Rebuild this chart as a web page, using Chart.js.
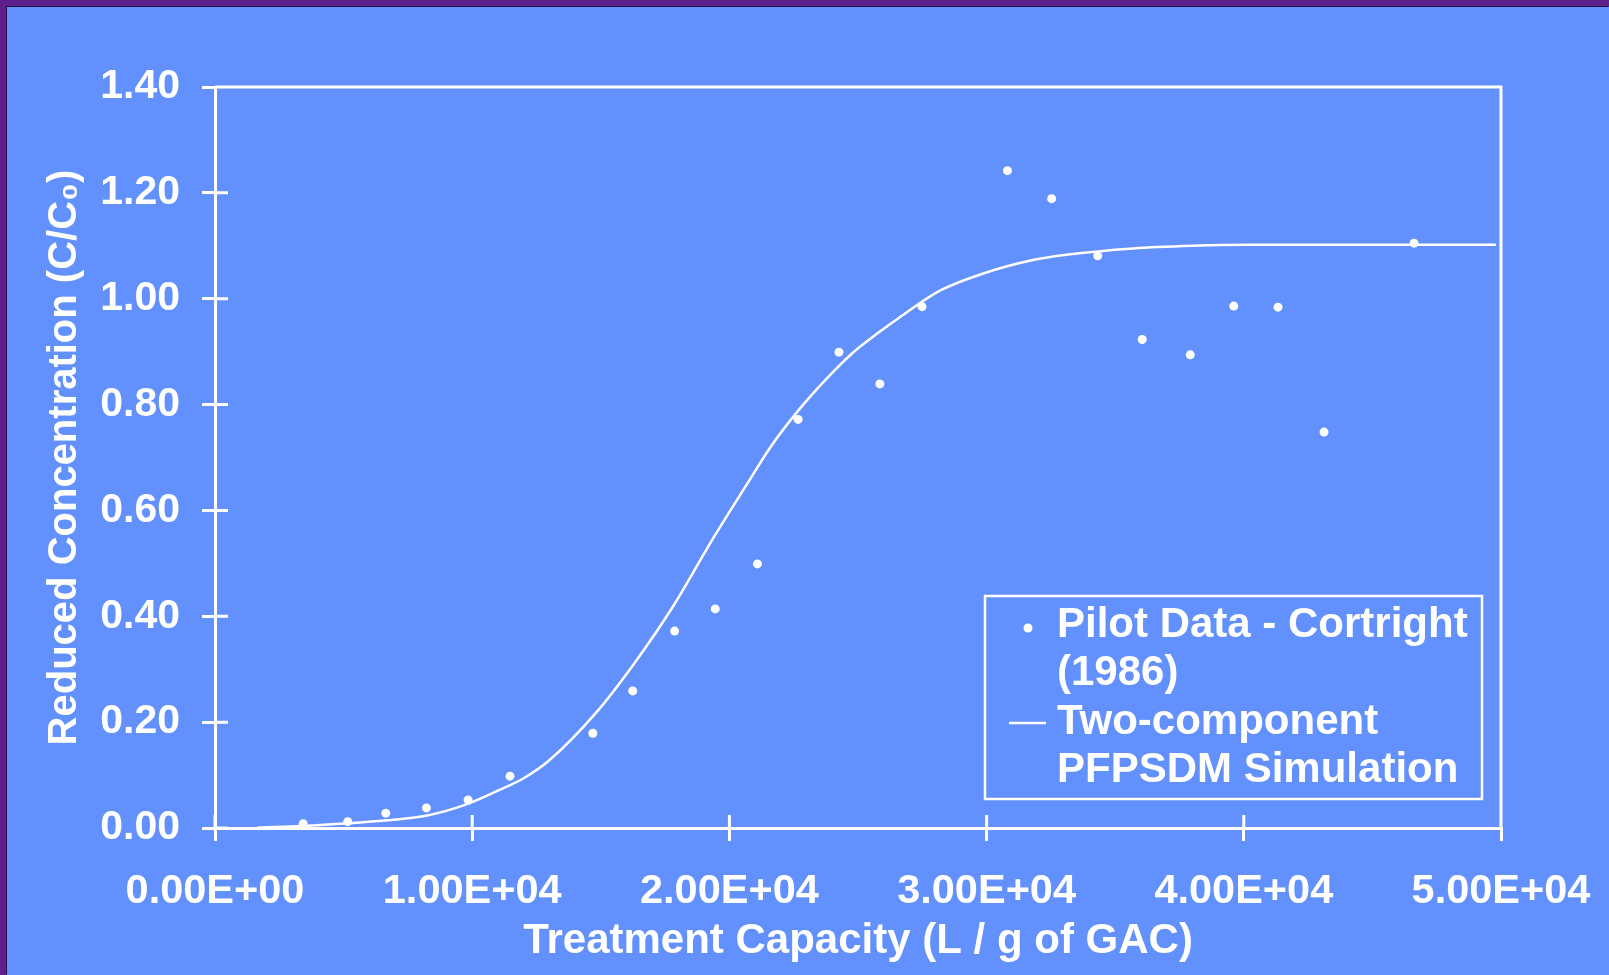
<!DOCTYPE html>
<html>
<head>
<meta charset="utf-8">
<title>Pilot data vs PFPSDM simulation</title>
<script src="https://cdn.jsdelivr.net/npm/chart.js@4.4.1/dist/chart.umd.min.js"></script>
<style>
  html, body { margin: 0; padding: 0; background: #5e208d; width: 1609px; height: 975px; overflow: hidden; }
  #chart {
    position: absolute; left: 7px; top: 7px;
    background: #6290fc;
    box-shadow: -1px -1px 0 #2a1142;
  }
</style>
</head>
<body>
<canvas id="chart" width="1602" height="968"></canvas>
<script>
// pilot data - Cortright (1986)
const pilotCapacity = [3430, 5160, 6640, 8220, 9840, 11470, 14690, 16240, 17870, 19450, 21090, 22670,
  24260, 25850, 27490, 30810, 32530, 34320, 36050, 37920, 39610, 41330, 43120, 46620];
const pilotConc = [0.008, 0.012, 0.028, 0.038, 0.053, 0.098, 0.179, 0.259, 0.372, 0.414, 0.499, 0.772,
  0.899, 0.839, 0.985, 1.242, 1.189, 1.081, 0.923, 0.894, 0.986, 0.984, 0.748, 1.105];

// two-component PFPSDM simulation
const simCapacity = [1650, 3400, 5200, 6600, 8200, 9800, 11200, 12000, 13000, 14800, 16300, 17800, 19400,
  20700, 21600, 22700, 23800, 24800, 25800, 26600, 28100, 29900, 31800, 33100, 35700, 38000, 40200, 46000, 49800];
const simConc = [0.001, 0.004, 0.009, 0.014, 0.023, 0.045, 0.075, 0.094, 0.128, 0.217, 0.311, 0.418, 0.550,
  0.651, 0.720, 0.790, 0.850, 0.898, 0.936, 0.964, 1.013, 1.048, 1.073, 1.083, 1.095, 1.100, 1.102, 1.102, 1.102];

const xTickLabels = ['0.00E+00', '1.00E+04', '2.00E+04', '3.00E+04', '4.00E+04', '5.00E+04'];
const yTickLabels = ['0.00', '0.20', '0.40', '0.60', '0.80', '1.00', '1.20', '1.40'];

const legendLabels = [['Pilot Data - Cortright', '(1986)'], ['Two-component', 'PFPSDM Simulation']];

const FONT = '"Liberation Sans", Arial, sans-serif';
const WHITE = '#ffffff';
const AXIS_W = 3;

// axis ticks cross the axis line, and the plot has a closed frame
const framePlugin = {
  id: 'frame',
  afterDraw(chart) {
    const { ctx, chartArea: a, scales } = chart;
    ctx.save();
    ctx.strokeStyle = WHITE;
    ctx.lineWidth = AXIS_W;
    ctx.beginPath();
    ctx.moveTo(a.left, a.top);
    ctx.lineTo(a.right, a.top);
    ctx.lineTo(a.right, a.bottom);
    scales.y.ticks.forEach(t => {
      const py = scales.y.getPixelForValue(t.value);
      ctx.moveTo(a.left, py);
      ctx.lineTo(a.left + 13, py);
    });
    scales.x.ticks.forEach(t => {
      const px = scales.x.getPixelForValue(t.value);
      ctx.moveTo(px, a.bottom);
      ctx.lineTo(px, a.bottom - 13);
    });
    ctx.stroke();
    ctx.restore();
  }
};

const legendPlugin = {
  id: 'boxLegend',
  afterDraw(chart) {
    const { ctx, chartArea: a } = chart;
    const left = a.right - 516, top = a.bottom - 232;
    ctx.save();
    ctx.strokeStyle = WHITE;
    ctx.fillStyle = WHITE;
    ctx.lineWidth = 2.5;
    ctx.strokeRect(left, top, 497, 203);

    ctx.beginPath();
    ctx.arc(left + 43, top + 32, 4.5, 0, Math.PI * 2);
    ctx.fill();
    ctx.beginPath();
    ctx.moveTo(left + 24, top + 127);
    ctx.lineTo(left + 61, top + 127);
    ctx.stroke();

    ctx.font = 'bold 42px ' + FONT;
    ctx.textBaseline = 'middle';
    ctx.textAlign = 'left';
    const rows = [29, 77, 126, 174];
    legendLabels.flat().forEach((txt, i) => ctx.fillText(txt, left + 72, top + rows[i]));
    ctx.restore();
  }
};

new Chart(document.getElementById('chart'), {
  type: 'scatter',
  data: {
    datasets: [
      {
        label: 'Pilot Data - Cortright (1986)',
        data: pilotCapacity.map((x, i) => ({ x, y: pilotConc[i] })),
        pointRadius: 4.5,
        pointBorderWidth: 0,
        pointBackgroundColor: WHITE,
        showLine: false
      },
      {
        label: 'Two-component PFPSDM Simulation',
        data: simCapacity.map((x, i) => ({ x, y: simConc[i] })),
        showLine: true,
        pointRadius: 0,
        borderColor: WHITE,
        borderWidth: 2.5,
        cubicInterpolationMode: 'monotone'
      }
    ]
  },
  options: {
    responsive: false,
    animation: false,
    layout: { padding: { left: 0, top: 80, right: 108, bottom: 0 } },
    plugins: {
      legend: { display: false },
      tooltip: { enabled: false }
    },
    scales: {
      x: {
        type: 'linear',
        min: 0,
        max: 50000,
        afterFit(scale) {
          scale.height = 147;
          scale.paddingLeft = 0;
          scale.paddingRight = 0;
        },
        border: { display: true, color: WHITE, width: AXIS_W },
        grid: { drawOnChartArea: false, drawTicks: true, tickLength: 13, color: WHITE, lineWidth: AXIS_W },
        ticks: {
          stepSize: 10000,
          autoSkip: false,
          maxRotation: 0,
          padding: 30,
          color: WHITE,
          font: { family: FONT, size: 41.5, weight: 'bold', lineHeight: 1 },
          callback: (v, i) => xTickLabels[i]
        },
        title: {
          display: true,
          text: 'Treatment Capacity (L / g of GAC)',
          color: WHITE,
          font: { family: FONT, size: 42, weight: 'bold', lineHeight: 1 },
          padding: { top: 0, bottom: 13 }
        }
      },
      y: {
        type: 'linear',
        min: 0,
        max: 1.4,
        afterFit(scale) {
          scale.width = 208;
          scale.paddingTop = 0;
          scale.paddingBottom = 0;
        },
        border: { display: true, color: WHITE, width: AXIS_W },
        grid: { drawOnChartArea: false, drawTicks: true, tickLength: 13, color: WHITE, lineWidth: AXIS_W },
        ticks: {
          stepSize: 0.2,
          autoSkip: false,
          padding: 22,
          color: WHITE,
          font: { family: FONT, size: 41, weight: 'bold', lineHeight: 1 },
          callback: (v, i) => yTickLabels[i]
        },
        title: {
          display: true,
          text: 'Reduced Concentration (C/C\u2080)',
          color: WHITE,
          font: { family: FONT, size: 40, weight: 'bold', lineHeight: 1 },
          padding: { top: 38, bottom: 0 }
        }
      }
    }
  },
  plugins: [framePlugin, legendPlugin]
});
</script>
</body>
</html>
